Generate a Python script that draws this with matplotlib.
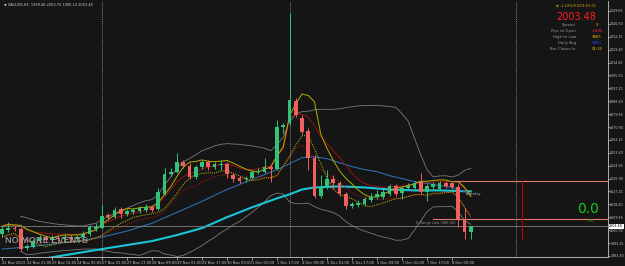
import matplotlib
matplotlib.use("Agg")
import matplotlib.pyplot as plt
import matplotlib.transforms as mtransforms
import numpy as np
import pandas as pd

W, H = 625, 266

# H4 candles, 22 Nov 05:00 .. 8 Dec 21:00
opens = [1998.3, 2000.9, 2002.3, 2001.6, 1988.8, 1989.5, 1993.5, 1995.6, 1994.2, 1995.6,
         1994.9, 1996.2, 1994.9, 1996.2, 1998.3, 2001.6, 2002.3, 2011.0, 2009.7, 2015.1,
         2011.7, 2013.0, 2013.7, 2014.4, 2016.4, 2015.1, 2025.2, 2039.3, 2040.6, 2047.4,
         2044.7, 2037.3, 2044.0, 2047.4, 2044.0, 2045.4, 2046.0, 2038.6, 2036.6, 2035.3,
         2036.6, 2040.6, 2040.6, 2044.0, 2042.7, 2070.9, 2073.6, 2088.4, 2077.0, 2068.2,
         2050.1, 2023.8, 2029.9, 2035.3, 2033.2, 2025.2, 2017.1, 2017.8, 2018.4, 2021.1,
         2023.1, 2023.1, 2025.2, 2030.6, 2025.8, 2029.2, 2029.2, 2033.9, 2026.5, 2029.9,
         2028.5, 2033.2, 2032.6, 2029.9, 2008.3, 1999.46]
highs = [2003.6, 2006.3, 2003.6, 2002.9, 1991.5, 1994.9, 1997.6, 1996.9, 1997.6, 1997.6,
         1998.3, 1997.6, 1997.6, 2000.3, 2004.3, 2005.6, 2017.8, 2012.4, 2016.4, 2016.4,
         2015.1, 2015.7, 2017.1, 2018.4, 2017.8, 2029.2, 2043.3, 2043.3, 2053.4, 2048.7,
         2046.7, 2045.4, 2048.7, 2048.7, 2047.4, 2048.7, 2047.4, 2040.0, 2037.9, 2037.9,
         2042.0, 2043.3, 2050.1, 2045.4, 2075.6, 2073.6, 2148.0, 2090.4, 2079.0, 2070.3,
         2052.1, 2038.6, 2042.0, 2038.6, 2034.6, 2026.5, 2019.8, 2021.1, 2023.1, 2025.8,
         2027.9, 2028.5, 2031.9, 2031.9, 2031.2, 2032.6, 2034.6, 2040.0, 2031.9, 2033.9,
         2034.6, 2034.6, 2033.9, 2031.9, 2015.1, 2003.75]
lows = [1996.2, 1999.6, 2000.3, 1986.8, 1987.5, 1988.8, 1992.2, 1992.9, 1992.9, 1992.9,
        1993.5, 1992.9, 1993.5, 1994.9, 1996.9, 2000.3, 2001.6, 2007.7, 2009.0, 2009.0,
        2010.4, 2011.7, 2012.4, 2013.0, 2013.0, 2014.4, 2024.5, 2037.9, 2040.0, 2043.3,
        2035.3, 2035.9, 2042.7, 2042.0, 2042.7, 2042.0, 2036.6, 2033.9, 2033.2, 2033.9,
        2035.3, 2039.3, 2040.0, 2033.9, 2042.0, 2066.9, 2072.3, 2077.7, 2066.2, 2042.0,
        2022.5, 2022.5, 2028.5, 2028.5, 2023.8, 2015.1, 2015.7, 2016.4, 2017.1, 2019.8,
        2021.8, 2021.8, 2023.8, 2023.8, 2021.8, 2027.9, 2027.9, 2025.2, 2020.5, 2028.5,
        2027.9, 2029.2, 2028.5, 2002.9, 1994.9, 1995.14]
closes = [2001.6, 2002.3, 2001.6, 1988.1, 1990.2, 1993.5, 1995.6, 1994.2, 1995.6, 1994.9,
          1996.2, 1994.9, 1996.2, 1998.3, 2002.9, 2002.9, 2010.4, 2009.7, 2014.4, 2011.7,
          2013.7, 2014.4, 2015.7, 2016.4, 2014.4, 2026.5, 2039.3, 2040.6, 2047.4, 2044.7,
          2037.3, 2044.0, 2047.4, 2044.0, 2046.0, 2046.0, 2039.3, 2035.9, 2034.6, 2036.6,
          2040.6, 2041.3, 2044.0, 2042.7, 2070.9, 2072.3, 2089.1, 2079.0, 2067.6, 2050.1,
          2023.8, 2029.9, 2035.3, 2033.2, 2025.2, 2017.1, 2018.4, 2019.1, 2021.8, 2023.1,
          2025.2, 2026.5, 2030.6, 2025.2, 2029.2, 2030.6, 2033.2, 2026.5, 2030.6, 2031.9,
          2033.2, 2030.6, 2029.9, 2008.3, 1999.6, 2003.48]

# slow averages (bar index, price)
blue_bars = [0, 4, 8, 12, 16, 20, 24, 28, 32, 36, 40, 44, 46, 48, 50, 52, 54, 56,
             58, 60, 62, 64, 66, 68, 70, 72, 74, 75]
blue_vals = [1988.1, 1989.5, 1991.5, 1993.5, 1996.2, 2000.3, 2005.6, 2013.0, 2020.5,
             2028.5, 2035.3, 2042.0, 2046.0, 2050.1, 2050.7, 2049.4, 2046.7, 2044.0,
             2042.0, 2040.6, 2037.9, 2035.9, 2033.9, 2032.6, 2031.2, 2029.9, 2027.2, 2025.2]
cyan_bars = [0, 4, 8, 12, 16, 20, 24, 28, 32, 36, 40, 44, 46, 48, 50, 54, 58, 62,
             66, 70, 75]
cyan_vals = [1976.0, 1979.5, 1982.5, 1985.3, 1988.1, 1990.8, 1993.5, 1997.6, 2002.3,
             2009.7, 2016.4, 2022.5, 2025.2, 2028.5, 2029.9, 2030.6, 2029.9, 2028.5,
             2027.9, 2027.9, 2027.2]

date_labels = ["22 Nov 2023", "22 Nov 21:00", "23 Nov 13:00", "24 Nov 05:00",
               "27 Nov 01:00", "27 Nov 17:00", "28 Nov 09:00", "29 Nov 01:00",
               "29 Nov 17:00", "30 Nov 09:00", "1 Dec 01:00", "1 Dec 17:00",
               "4 Dec 09:00", "5 Dec 01:00", "5 Dec 17:00", "6 Dec 09:00",
               "7 Dec 01:00", "7 Dec 17:00", "8 Dec 09:00"]
week_breaks = [16, 46, 82.2]

bid = 2003.48
range_high = 2034.3
range_low = 2008.5

panel_labels = ["Spread", "Pips to Open", "High to Low", "Daily Avg", "Bar Closes In"]
panel_values = ["9", "-2495", "3865", "3083", "01:35"]
panel_colors = ["#e6c200", "#ff2a2a", "#e6c200", "#2846ff", "#e6c200"]

bg = "#151515"
up_col = "#33c27a"
dn_col = "#f0605d"

fig = plt.figure(figsize=(W / 100, H / 100), dpi=100, facecolor=bg)
ax = fig.add_axes([0, 9 / H, 608 / W, 256 / H], facecolor=bg)

o = np.array(opens); h = np.array(highs); l = np.array(lows); c = np.array(closes)
x = np.arange(len(o))
cols = np.where(c >= o, up_col, dn_col)

# indicators
hi = pd.Series(h); lo = pd.Series(l); cl = pd.Series(c)
mid = cl.rolling(20, min_periods=4).mean()
sd = cl.rolling(20, min_periods=4).std(ddof=0)
ax.plot(x, mid + 2 * sd, color="#7a7a7a", lw=0.6)
ax.plot(x, mid - 2 * sd, color="#7a7a7a", lw=0.6)
ax.plot(cyan_bars, cyan_vals, color="#19c6d8", lw=1.5)
ax.plot(blue_bars, blue_vals, color="#2f6cad", lw=0.8)
ax.plot(x, hi.ewm(span=8, adjust=False).mean(), color="#9a1212", lw=0.7)
ax.plot(x, lo.ewm(span=8, adjust=False).mean(), color="#a01818", lw=0.7, ls=(0, (1, 1)))
ax.plot(x, hi.rolling(5, min_periods=1).mean(), color="#b5ad00", lw=0.7)
ax.plot(x, lo.rolling(5, min_periods=1).mean(), color="#c8b400", lw=0.7, ls=(0, (1, 1)))

# candles
ax.vlines(x, l, h, colors=cols, lw=0.7, zorder=3)
ax.bar(x, np.maximum(np.abs(c - o), 0.5), bottom=np.minimum(o, c), width=0.62,
       color=cols, lw=0, zorder=4)

# lines and objects
for wb in week_breaks:
    ax.axvline(wb, color="#a8a8a8", lw=0.5, ls=(0, (1.5, 1.5)), zorder=2)
ax.axhline(bid, color="#808080", lw=0.6, zorder=2)
ax.axhline(range_high, xmin=455 / 608, color="#e07a6a", lw=0.8, zorder=2)
ax.axhline(range_low, xmin=433 / 608, color="#e07a6a", lw=0.8, zorder=2)
ax.vlines(83.2, 1994.2, range_high, color="#c00000", lw=0.8, zorder=2)

ax.text(74.2, 2025.5, "re-entry", color="#b8b8b8", fontsize=2.8, va="center")
ax.text(66.2, 2006.0, "0 Range Low (488.00)", color="#909090", fontsize=2.6, va="center")
ax.text(0.5, 1994.0, "NO MORE EVENTS", color="#a0a0a0", alpha=0.85, fontsize=6.6,
        fontweight="bold", family=["Liberation Sans", "DejaVu Sans"], va="center", zorder=6)

ax.set_xlim(-0.32, 96.96)
ax.set_ylim(1982.7, 2156.4)

# axes styling
for s in ["top", "left"]:
    ax.spines[s].set_visible(False)
for s in ["bottom", "right"]:
    ax.spines[s].set_color("#c8c8c8")
    ax.spines[s].set_linewidth(0.6)
ax.yaxis.tick_right()
ax.set_yticks([1983.40 + 8.75 * k for k in range(20)])
ax.yaxis.set_major_formatter(matplotlib.ticker.FormatStrFormatter("%.2f"))
ax.set_xticks(range(0, 73, 4))
ax.set_xticklabels(date_labels)
for t in ax.get_xticklabels():
    t.set_horizontalalignment("left")
ax.tick_params(axis="x", colors="#c8c8c8", labelsize=2.6, length=2, width=0.5, pad=1)
ax.tick_params(axis="y", colors="#c8c8c8", labelsize=2.3, length=1.2, width=0.5, pad=0.4)

trans = mtransforms.blended_transform_factory(ax.transAxes, ax.transData)
ax.text(1.002, bid, "2003.48", transform=trans, fontsize=2.3, color="black", va="center",
        bbox=dict(facecolor="white", edgecolor="none", pad=0.4), clip_on=False, zorder=10)

def fx(px):
    return px / W

def fy(py):
    return 1 - py / H

fig.text(fx(4), fy(5), "\u25bc XAUUSD,H4  1999.46 2003.75 1995.14 2003.48",
         color="#d0d0d0", fontsize=2.5, va="center")
fig.text(fx(556), fy(6), "\u25bc -1.24%/9.0/01:01:01", color="#e0a400", fontsize=2.5,
         va="center")
fig.text(fx(576), fy(17), "2003.48", color="#ff1a1a", fontsize=7, ha="center", va="center")
for i, (lab, val, col) in enumerate(zip(panel_labels, panel_values, panel_colors)):
    fig.text(fx(576), fy(25 + 6 * i), lab, color="#9a9a9a", fontsize=2.8, ha="right",
             va="center")
    fig.text(fx(597), fy(25 + 6 * i), val, color=col, fontsize=2.8, ha="center", va="center")

fig.text(fx(588), fy(209), "0.0", color="#19c819", fontsize=10, ha="center", va="center")
fig.text(fx(591), fy(220.5), "0.0", color="#19b019", fontsize=3, ha="center", va="center")

fig.savefig("out.png", dpi=100, facecolor=bg)
